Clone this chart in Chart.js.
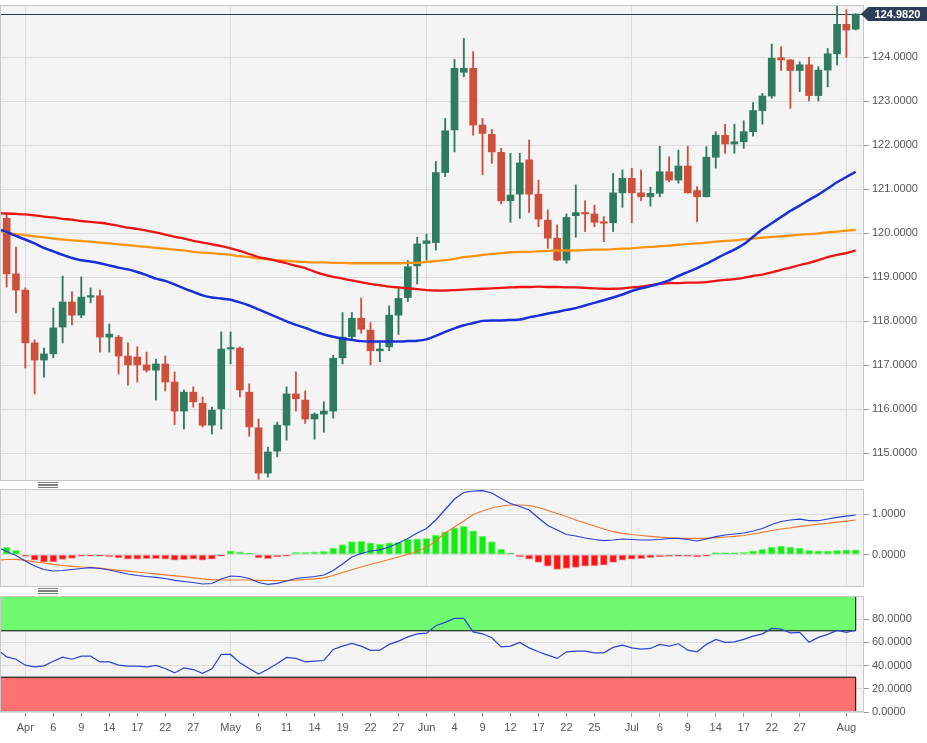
<!DOCTYPE html>
<html>
<head>
<meta charset="utf-8">
<title>EUR/JPY daily</title>
<script src="https://cdn.jsdelivr.net/npm/chart.js@4.4.1/dist/chart.umd.min.js"></script>
<style>
  html, body { margin:0; padding:0; background:#ffffff; }
  body { width:927px; height:743px; position:relative; overflow:hidden; }
  canvas.pane { position:absolute; left:0; display:block; }
  .handle { position:absolute; left:38px; width:20px; height:6px;
    background: repeating-linear-gradient(to bottom, #7d7d7d 0px, #7d7d7d 1px, #ffffff 1px, #ffffff 1.6px); }
</style>
</head>
<body>
<canvas id="main" class="pane" width="927" height="482" style="top:0;width:927px;height:482px"></canvas>
<canvas id="macd" class="pane" width="927" height="104" style="top:484px;width:927px;height:104px"></canvas>
<canvas id="rsi" class="pane" width="927" height="152" style="top:591px;width:927px;height:152px"></canvas>
<div class="handle" style="top:482px"></div>
<div class="handle" style="top:588px"></div>
<script>
// ---------------- DATA ----------------
const dates = [
 '2020-03-27','2020-03-30','2020-03-31',
 '2020-04-01','2020-04-02','2020-04-03','2020-04-06','2020-04-07','2020-04-08','2020-04-09','2020-04-10','2020-04-13','2020-04-14','2020-04-15','2020-04-16','2020-04-17','2020-04-20','2020-04-21','2020-04-22','2020-04-23','2020-04-24','2020-04-27','2020-04-28','2020-04-29','2020-04-30',
 '2020-05-01','2020-05-04','2020-05-05','2020-05-06','2020-05-07','2020-05-08','2020-05-11','2020-05-12','2020-05-13','2020-05-14','2020-05-15','2020-05-18','2020-05-19','2020-05-20','2020-05-21','2020-05-22','2020-05-25','2020-05-26','2020-05-27','2020-05-28','2020-05-29',
 '2020-06-01','2020-06-02','2020-06-03','2020-06-04','2020-06-05','2020-06-08','2020-06-09','2020-06-10','2020-06-11','2020-06-12','2020-06-15','2020-06-16','2020-06-17','2020-06-18','2020-06-19','2020-06-22','2020-06-23','2020-06-24','2020-06-25','2020-06-26','2020-06-29','2020-06-30',
 '2020-07-01','2020-07-02','2020-07-03','2020-07-06','2020-07-07','2020-07-08','2020-07-09','2020-07-10','2020-07-13','2020-07-14','2020-07-15','2020-07-16','2020-07-17','2020-07-20','2020-07-21','2020-07-22','2020-07-23','2020-07-24','2020-07-27','2020-07-28','2020-07-29','2020-07-30','2020-07-31',
 '2020-08-03','2020-08-04'
];
const opens = [120.55,120.34,119.08,
 118.71,117.51,117.12,117.26,117.87,118.44,118.14,118.55,118.58,117.64,117.64,117.21,117.19,117.01,116.89,117.03,116.62,115.96,116.39,116.14,115.64,116.01,
 117.37,117.39,116.39,115.58,114.55,115.05,115.64,116.35,116.21,115.78,115.89,115.96,117.17,117.65,118.07,117.80,117.33,117.42,118.14,118.54,119.26,
 119.77,119.79,121.38,122.35,123.66,123.75,122.46,122.25,121.84,120.74,120.89,121.67,120.89,120.30,119.89,119.39,120.40,120.46,120.44,120.25,120.24,120.92,
 121.25,120.92,120.83,120.91,121.40,121.21,121.53,120.97,120.83,121.73,122.23,122.03,122.08,122.31,122.79,123.12,123.99,123.94,123.70,123.83,123.13,123.71,124.08,
 124.75,124.64];
const highs = [121.20,120.45,119.69,
 118.76,117.58,117.39,118.30,119.03,118.67,119.01,118.76,118.71,117.94,117.68,117.51,117.42,117.30,117.14,117.21,116.85,116.44,116.51,116.28,116.05,117.76,
 117.76,117.42,116.58,115.78,115.14,115.71,116.51,116.85,116.42,115.92,116.17,117.23,118.20,118.20,118.53,117.97,117.54,118.35,118.75,119.38,119.91,
 119.98,121.63,122.61,123.95,124.43,124.13,122.61,122.36,121.93,121.82,121.82,122.12,121.21,120.53,120.19,120.44,121.10,120.74,120.64,120.38,121.36,121.44,
 121.48,121.44,121.05,121.98,121.74,121.89,121.98,121.06,121.97,122.31,122.48,122.48,122.56,122.97,123.18,124.30,124.24,123.95,123.90,124.00,123.79,124.20,125.19,
 125.08,124.99];
const lows = [120.30,118.78,118.19,
 116.94,116.35,116.73,117.17,117.51,117.92,118.08,118.42,117.30,117.30,116.80,116.55,116.62,116.85,116.21,116.42,115.65,115.55,116.05,115.60,115.44,115.55,
 117.03,116.28,115.39,114.41,114.46,114.92,115.30,115.96,115.68,115.32,115.48,115.80,117.03,117.58,117.73,117.01,117.08,117.33,117.70,118.45,118.85,
 119.39,119.62,121.29,121.85,123.56,122.23,121.33,121.59,120.67,120.25,120.34,120.47,120.15,119.66,119.38,119.32,119.91,120.04,120.15,119.81,120.04,120.59,
 120.24,120.74,120.62,120.83,121.17,121.14,120.91,120.26,120.83,121.48,121.82,121.82,121.93,122.21,122.48,123.07,123.70,122.84,123.22,123.01,123.01,123.33,123.83,
 124.00,124.62];
const closes = [120.40,119.08,118.71,
 117.51,117.12,117.26,117.85,118.44,118.14,118.55,118.58,117.64,117.71,117.21,117.01,117.01,116.89,117.03,116.62,115.96,116.39,116.17,115.64,115.98,117.37,
 117.40,116.44,115.60,114.55,115.03,115.64,116.35,116.24,115.78,115.89,115.96,117.16,117.64,118.07,117.82,117.33,117.37,118.14,118.52,119.24,119.76,
 119.83,121.38,122.33,123.75,123.75,122.46,122.27,121.85,120.74,120.87,121.60,120.89,120.32,119.89,119.39,120.36,120.47,120.44,120.25,120.23,120.92,121.25,
 120.92,120.83,120.91,121.40,121.21,121.53,120.92,120.83,121.73,122.23,122.03,122.08,122.31,122.79,123.12,123.98,123.94,123.70,123.83,123.13,123.71,124.08,124.75,
 124.62,124.982];
// moving averages (blue / red / orange)
const maShort = [120.10,120.03,119.94,119.86,119.77,119.67,119.59,119.51,119.44,119.39,
 119.36,119.32,119.27,119.22,119.18,119.12,119.05,118.97,118.92,118.84,
 118.75,118.67,118.59,118.54,118.52,118.49,118.43,118.36,118.27,118.18,
 118.09,118.00,117.92,117.85,117.77,117.70,117.65,117.61,117.58,117.55,
 117.54,117.54,117.54,117.54,117.55,117.56,117.59,117.67,117.76,117.84,
 117.91,117.96,118.01,118.02,118.02,118.03,118.04,118.09,118.13,118.18,
 118.21,118.26,118.30,118.36,118.42,118.48,118.54,118.61,118.69,118.75,
 118.80,118.86,118.93,119.03,119.12,119.21,119.31,119.42,119.53,119.63,
 119.75,119.92,120.09,120.23,120.37,120.51,120.63,120.76,120.88,121.02,
 121.16,121.28,121.40];
const maMid = [120.46,120.45,120.44,120.43,120.41,120.38,120.36,120.33,120.31,120.28,
 120.26,120.24,120.21,120.17,120.13,120.10,120.06,120.02,119.97,119.92,
 119.88,119.83,119.79,119.75,119.71,119.66,119.60,119.53,119.46,119.42,
 119.37,119.32,119.26,119.21,119.13,119.06,119.01,118.97,118.93,118.89,
 118.85,118.82,118.79,118.77,118.75,118.73,118.71,118.70,118.70,118.71,
 118.72,118.73,118.74,118.75,118.76,118.77,118.78,118.78,118.79,118.78,
 118.78,118.77,118.77,118.76,118.75,118.74,118.74,118.75,118.77,118.79,
 118.82,118.85,118.87,118.87,118.88,118.88,118.89,118.92,118.94,118.96,
 118.99,119.03,119.06,119.11,119.17,119.22,119.28,119.33,119.39,119.46,
 119.51,119.55,119.61];
const maLong = [120.06,120.02,119.98,119.96,119.93,119.91,119.88,119.86,119.84,119.83,
 119.81,119.79,119.77,119.75,119.73,119.71,119.69,119.67,119.65,119.63,
 119.61,119.58,119.56,119.55,119.53,119.51,119.48,119.46,119.43,119.41,
 119.39,119.38,119.36,119.35,119.34,119.34,119.33,119.33,119.32,119.32,
 119.32,119.32,119.32,119.32,119.33,119.33,119.35,119.37,119.39,119.42,
 119.46,119.48,119.51,119.53,119.55,119.57,119.58,119.58,119.59,119.60,
 119.61,119.61,119.61,119.62,119.63,119.63,119.64,119.65,119.66,119.68,
 119.69,119.71,119.72,119.74,119.76,119.77,119.79,119.81,119.83,119.84,
 119.86,119.88,119.90,119.92,119.93,119.95,119.97,119.98,120.00,120.02,
 120.04,120.06,120.08];
const macdLine = [0.189,0.079,-0.020,-0.155,-0.278,-0.364,-0.400,-0.388,-0.364,-0.339,-0.319,-0.339,-0.376,-0.425,-0.474,-0.511,-0.536,-0.555,-0.585,-0.629,-0.658,-0.683,-0.720,-0.708,-0.597,-0.523,-0.536,-0.585,-0.683,-0.727,-0.703,-0.646,-0.585,-0.560,-0.536,-0.499,-0.388,-0.229,-0.057,0.029,0.091,0.120,0.189,0.287,0.398,0.533,0.644,0.853,1.111,1.369,1.528,1.565,1.572,1.516,1.381,1.258,1.184,1.098,0.902,0.717,0.607,0.496,0.459,0.410,0.373,0.344,0.361,0.386,0.373,0.361,0.361,0.373,0.398,0.403,0.373,0.337,0.386,0.442,0.484,0.509,0.533,0.582,0.644,0.742,0.816,0.853,0.872,0.835,0.835,0.877,0.919,0.946,0.975];
const signalLine = [-0.138,-0.118,-0.113,-0.138,-0.174,-0.204,-0.236,-0.265,-0.285,-0.302,-0.310,-0.332,-0.359,-0.383,-0.405,-0.425,-0.450,-0.469,-0.494,-0.518,-0.541,-0.568,-0.592,-0.614,-0.622,-0.622,-0.622,-0.622,-0.629,-0.634,-0.639,-0.636,-0.627,-0.609,-0.592,-0.568,-0.511,-0.437,-0.369,-0.302,-0.241,-0.179,-0.118,-0.057,0.005,0.079,0.177,0.337,0.533,0.681,0.828,0.988,1.074,1.147,1.197,1.221,1.221,1.209,1.160,1.086,1.012,0.939,0.853,0.779,0.705,0.631,0.565,0.526,0.496,0.472,0.452,0.430,0.415,0.403,0.403,0.403,0.403,0.418,0.435,0.452,0.472,0.509,0.550,0.595,0.631,0.661,0.698,0.722,0.749,0.771,0.799,0.826,0.853];
const macdHist = [0.30,0.19,0.11,-0.04,-0.135,-0.185,-0.177,-0.118,-0.093,-0.037,-0.005,-0.03,-0.05,-0.08,-0.11,-0.11,-0.10,-0.10,-0.11,-0.135,-0.12,-0.11,-0.135,-0.11,
 -0.005,0.095,0.07,0.005,-0.08,-0.10,-0.055,-0.005,0.06,0.06,0.07,0.085,0.165,0.25,0.325,0.33,0.29,0.26,0.29,0.305,0.375,0.39,0.40,0.48,0.56,0.66,
 0.70,0.585,0.46,0.325,0.14,0.01,-0.05,-0.11,-0.19,-0.28,-0.36,-0.34,-0.31,-0.28,-0.275,-0.26,-0.19,-0.135,-0.11,-0.095,-0.07,-0.055,-0.04,-0.015,-0.04,-0.055,-0.015,0.05,0.05,0.055,0.065,0.095,0.13,0.19,0.21,0.19,0.165,0.11,0.095,0.095,0.11,0.12,0.12];
const rsi = [54,47.5,45.5,40.4,38.9,39.8,43.8,47.3,45.5,48.1,48.1,43.2,43.2,40.4,39.5,39.5,38.9,40.1,37.5,33.7,38.0,36.6,33.4,37.2,49.6,49.6,42.4,37.5,32.8,36.9,41.8,47.0,46.2,43.2,43.8,44.4,53.9,56.8,59.1,56.8,53.1,53.3,58.3,61.1,64.8,67.4,68.0,74.3,77.3,80.7,
 80.7,69.1,67.4,64.0,56.2,56.8,60.0,55.3,51.9,49.0,46.2,51.9,52.5,52.5,51.0,51.0,55.7,57.6,55.3,54.2,54.8,58.3,56.8,58.8,53.3,51.9,58.3,62.6,60.0,60.5,62.6,65.4,67.4,72.1,71.5,68.3,68.6,60.2,64.3,66.9,70.4,68.6,70.6];
const tickDates = ['2020-04-01','2020-04-06','2020-04-09','2020-04-14','2020-04-17','2020-04-22','2020-04-27','2020-05-01','2020-05-06','2020-05-11','2020-05-14','2020-05-19','2020-05-22','2020-05-27','2020-06-01','2020-06-04','2020-06-09','2020-06-12','2020-06-17','2020-06-22','2020-06-25','2020-07-01','2020-07-06','2020-07-09','2020-07-14','2020-07-17','2020-07-22','2020-07-27','2020-08-03'];
const tickLabels = ['Apr','6','9','14','17','22','27','May','6','11','14','19','22','27','Jun','4','9','12','17','22','25','Jul','6','9','14','17','22','27','Aug'];
const priceTicks = [115,116,117,118,119,120,121,122,123,124];
const macdTicks = [0,1];
const rsiTicks = [0,20,40,60,80];
const rsiOverbought = 70, rsiOversold = 30;

// ---------------- STYLE / LAYOUT ----------------
const UP = '#2e7b60', DOWN = '#cf4f3d';
const FONT = {family:"'Liberation Sans', Arial, sans-serif", size:11};
const GRID = '#dcdcdc';
const X_MIN = 0.288, X_MAX = 92.89;
const AXIS_W = 63;

const xs = dates.map((d,i)=>i);
const tickIdx = tickDates.map(d=>dates.indexOf(d));
const labelOf = {}; tickIdx.forEach((v,i)=>labelOf[v]=tickLabels[i]);
const isMonth = v => isNaN(+labelOf[v]);

const frame = {
  id:'frame',
  beforeDraw(c){ const {ctx, chartArea:a} = c; ctx.save(); ctx.fillStyle='#f4f4f4';
    ctx.fillRect(a.left,a.top,a.right-a.left,a.bottom-a.top); ctx.restore(); },
  afterDraw(c){ const {ctx, chartArea:a} = c; ctx.save(); ctx.strokeStyle='#c9c9c9'; ctx.lineWidth=1;
    ctx.strokeRect(a.left+0.5,a.top+0.5,a.right-a.left-1,a.bottom-a.top-1); ctx.restore(); }
};

function xScale(showLabels){
  return {
    type:'linear', min:X_MIN, max:X_MAX, offset:false,
    afterBuildTicks: s => { s.ticks = tickIdx.map(v=>({value:v})); },
    afterFit: s => { s.height = showLabels ? 31 : 0; s.paddingLeft = 0; s.paddingRight = 0; },
    grid:{ offset:false, color: c => (c.tick && isMonth(c.tick.value)) ? GRID : 'rgba(0,0,0,0)',
           drawTicks: showLabels, tickLength:5, tickColor:'#9a9a9a' },
    border:{display:false},
    ticks:{ display:showLabels, autoSkip:false, maxRotation:0, padding:4, color:'#555', font:FONT,
            callback: v => labelOf[v] }
  };
}
function yScale(min,max,ticks,fmt){
  return {
    position:'right', min, max,
    afterBuildTicks: s => { s.ticks = ticks.map(v=>({value:v})); },
    afterFit: s => { s.width = AXIS_W; s.paddingTop = 0; s.paddingBottom = 0; },
    grid:{ color:GRID, tickLength:5, tickColor:'#9a9a9a' },
    border:{display:false},
    ticks:{ color:'#555', font:FONT, padding:3, callback: v => fmt(v) }
  };
}
const common = {
  responsive:false, animation:false, devicePixelRatio:1,
  plugins:{ legend:{display:false}, tooltip:{enabled:false} },
  elements:{ point:{radius:0} }
};

// ---------------- MAIN PRICE PANEL ----------------
const lastIdx = closes.length-1;
const priceTag = {
  id:'priceTag',
  beforeDatasetsDraw(c){
    const {ctx, chartArea:a, scales:{y}} = c; const py = Math.round(y.getPixelForValue(closes[lastIdx]))+0.5;
    ctx.save(); ctx.strokeStyle='#2c3e57'; ctx.lineWidth=1; ctx.beginPath(); ctx.moveTo(a.left,py); ctx.lineTo(a.right,py); ctx.stroke(); ctx.restore();
  },
  afterDraw(c){
    const {ctx, chartArea:a, scales:{y}} = c; const py = y.getPixelForValue(closes[lastIdx]);
    ctx.save(); ctx.fillStyle='#2c3e57';
    ctx.beginPath(); ctx.moveTo(a.right-3,py); ctx.lineTo(a.right+4,py-7); ctx.lineTo(927,py-7); ctx.lineTo(927,py+7); ctx.lineTo(a.right+4,py+7); ctx.closePath(); ctx.fill();
    ctx.fillStyle='#ffffff'; ctx.font="bold 11px 'Liberation Sans', Arial, sans-serif"; ctx.textAlign='center'; ctx.textBaseline='middle';
    ctx.fillText(closes[lastIdx].toFixed(4), (a.right+4+927)/2, py+0.5);
    ctx.restore();
  }
};
const candleColor = c => closes[c.dataIndex] >= opens[c.dataIndex] ? UP : DOWN;
new Chart(document.getElementById('main'), {
  type:'line',
  data:{ datasets:[
    {type:'line', data: xs.map(i=>({x:i,y:maShort[i]})), borderColor:'#1a2fd8', borderWidth:2.5, tension:0.2, pointRadius:0},
    {type:'line', data: xs.map(i=>({x:i,y:maMid[i]})), borderColor:'#ec1414', borderWidth:2.3, tension:0.2, pointRadius:0},
    {type:'line', data: xs.map(i=>({x:i,y:maLong[i]})), borderColor:'#ff9412', borderWidth:2.3, tension:0.2, pointRadius:0},
    {type:'bar', data: xs.map(i=>({x:i,y:[opens[i],closes[i]]})), backgroundColor:candleColor, borderWidth:0,
     barThickness:7, grouped:false, minBarLength:1.5, borderSkipped:false},
    {type:'bar', data: xs.map(i=>({x:i,y:[lows[i],highs[i]]})), backgroundColor:candleColor, borderWidth:0,
     barThickness:1.2, grouped:false, borderSkipped:false}
  ]},
  options:{ ...common, layout:{padding:{top:5,bottom:1,left:0,right:0}},
    scales:{ x:xScale(false), y:yScale(114.371,125.189,priceTicks,v=>v.toFixed(4)) } },
  plugins:[frame, priceTag]
});

// ---------------- MACD PANEL ----------------
new Chart(document.getElementById('macd'), {
  type:'line',
  data:{ datasets:[
    {type:'line', data: xs.map(i=>({x:i,y:macdLine[i]})), borderColor:'#2a3ed2', borderWidth:1.2, pointRadius:0},
    {type:'line', data: xs.map(i=>({x:i,y:signalLine[i]})), borderColor:'#f07a2c', borderWidth:1.2, pointRadius:0},
    {type:'bar', data: xs.map(i=>({x:i,y:macdHist[i]})),
     backgroundColor: c => macdHist[c.dataIndex] >= 0 ? '#14ec14' : '#ff1212',
     borderColor: c => macdHist[c.dataIndex] >= 0 ? '#7cf87c' : '#ff8a8a',
     borderWidth:1, barThickness:7, grouped:false, minBarLength:1.5, borderSkipped:false}
  ]},
  options:{ ...common, layout:{padding:{top:5,bottom:1,left:0,right:0}},
    scales:{ x:xScale(false), y:yScale(-0.7936,1.6143,macdTicks,v=>v.toFixed(4)) } },
  plugins:[frame]
});

// ---------------- RSI PANEL ----------------
const first = xs[0], last = xs[xs.length-1];
new Chart(document.getElementById('rsi'), {
  type:'line',
  data:{ datasets:[
    {data: xs.map(i=>({x:i,y:rsi[i]})), borderColor:'#2b44d4', borderWidth:1.2, pointRadius:0},
    {data:[{x:last,y:rsiOverbought},{x:last,y:100}], borderColor:'#000', borderWidth:1, pointRadius:0},
    {data:[{x:last,y:0},{x:last,y:rsiOversold}], borderColor:'#000', borderWidth:1, pointRadius:0},
    {data:[{x:first,y:rsiOverbought},{x:last,y:rsiOverbought}], borderColor:'#000', borderWidth:1, pointRadius:0,
     fill:'end', backgroundColor:'#70fa70'},
    {data:[{x:first,y:rsiOversold},{x:last,y:rsiOversold}], borderColor:'#000', borderWidth:1, pointRadius:0,
     fill:'start', backgroundColor:'#ff7070'}
  ]},
  options:{ ...common, layout:{padding:{top:5,bottom:0,left:0,right:0}},
    scales:{ x:xScale(true), y:yScale(0,100,rsiTicks,v=>v.toFixed(4)) } },
  plugins:[frame]
});
</script>
</body>
</html>
